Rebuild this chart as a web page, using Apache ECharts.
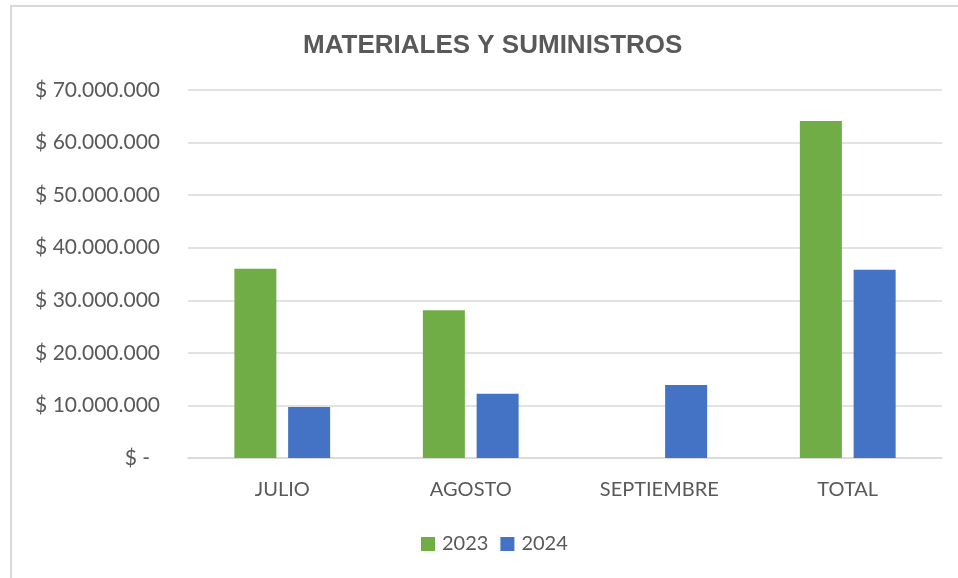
<!DOCTYPE html>
<html>
<head>
<meta charset="utf-8">
<script src="https://cdn.jsdelivr.net/npm/echarts@6/dist/echarts.min.js"></script>
<style>
  html, body { margin: 0; padding: 0; background: #fff; }
  #frame { position: absolute; left: 10px; top: 5px; width: 1000px; height: 620px;
           border: 2px solid #d9d9d9; box-sizing: border-box; }
  #main { position: absolute; left: 0; top: 0; width: 958px; height: 578px; }
</style>
</head>
<body>
<div id="frame"></div>
<div id="main"></div>
<script>
// datos
var categorias = ['JULIO', 'AGOSTO', 'SEPTIEMBRE', 'TOTAL'];
var serie_2023 = [36000000, 28100000, null, 64100000];
var serie_2024 = [9700000, 12200000, 13900000, 35800000];
var nombres = ['2023', '2024'];

var gris = '#595959';
var fuente = 'Lato';

function pesos(v){
    if (v === 0) return '{z|$ -}';
    var s = String(Math.round(v)).replace(/\B(?=(\d{3})+(?!\d))/g, '.');
    return '$ ' + s;
}

var chartDom = document.getElementById('main');
var myChart = echarts.init(chartDom);
var option = {
    animation: false,
    title: {
        text: 'MATERIALES Y SUMINISTROS',
        left: 298,
        top: 28,
        textStyle: {
            fontFamily: 'Liberation Sans',
            fontSize: 26,
            fontWeight: 'bold',
            color: gris
        }
    },
    legend: {
        data: nombres,
        top: 529,
        left: 416,
        itemWidth: 14,
        itemHeight: 14,
        itemGap: 12,
        icon: 'rect',
        textStyle: { fontFamily: fuente, fontSize: 20, color: gris, padding: [0, 0, 0, 2] }
    },
    grid: { left: 188, right: 16, top: 90, bottom: 120 },
    xAxis: {
        type: 'category',
        data: categorias,
        axisLine: { lineStyle: { color: '#d9d9d9', width: 1.5 } },
        axisTick: { show: false },
        axisLabel: { fontFamily: fuente, fontSize: 20, color: gris, margin: 22 }
    },
    yAxis: {
        type: 'value',
        min: 0,
        max: 70000000,
        interval: 10000000,
        axisLine: { show: false },
        axisTick: { show: false },
        splitLine: { lineStyle: { color: '#d9d9d9', width: 1.5 } },
        axisLabel: {
            fontFamily: fuente, fontSize: 21, color: gris, margin: 28,
            formatter: pesos,
            rich: { z: { fontFamily: fuente, fontSize: 21, color: gris, padding: [0, 10, 0, 0] } }
        }
    },
    series: [
        {
            name: nombres[0],
            type: 'bar',
            data: serie_2023,
            barWidth: 42,
            barGap: '28%',
            itemStyle: { color: '#70ad47' }
        },
        {
            name: nombres[1],
            type: 'bar',
            data: serie_2024,
            barWidth: 42,
            itemStyle: { color: '#4472c4' }
        }
    ]
};
option && myChart.setOption(option);
</script>
</body>
</html>
